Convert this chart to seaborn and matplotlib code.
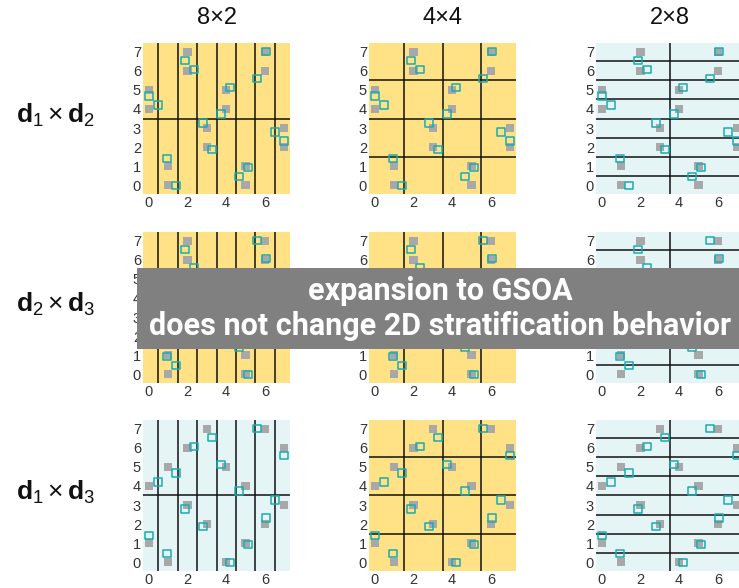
import matplotlib
matplotlib.use("Agg")
import matplotlib.pyplot as plt
from matplotlib.patches import Rectangle
import seaborn as sns
import pandas as pd

# 16-point coarse lattice design (gray) in three dimensions
grid_d1 = [0, 0, 1, 1, 2, 2, 3, 3, 4, 4, 5, 5, 6, 6, 7, 7]
grid_d2 = [5, 4, 1, 0, 6, 7, 2, 3, 5, 4, 1, 0, 6, 7, 2, 3]
grid_d3 = [1, 4, 0, 5, 6, 3, 7, 2, 0, 5, 1, 4, 7, 2, 6, 3]

# 16-point expanded design (open squares) in three dimensions
gsoa_d1 = [0.00, 0.47, 0.93, 1.40, 1.87, 2.33, 2.80, 3.27,
           3.73, 4.20, 4.67, 5.13, 5.60, 6.07, 6.53, 7.00]
gsoa_d2 = [4.67, 4.20, 1.40, 0.00, 6.53, 6.07, 3.27, 1.87,
           3.73, 5.13, 0.47, 0.93, 5.60, 7.00, 2.80, 2.33]
gsoa_d3 = [1.40, 4.20, 0.47, 4.67, 2.80, 6.07, 1.87, 6.53,
           5.13, 0.00, 3.73, 0.93, 7.00, 2.33, 3.27, 5.60]

col_titles = ["8\u00d72", "4\u00d74", "2\u00d78"]
strata = [(8, 2), (4, 4), (2, 8)]
row_labels = [r"$\mathbf{d}_1\times\mathbf{d}_2$",
              r"$\mathbf{d}_2\times\mathbf{d}_3$",
              r"$\mathbf{d}_1\times\mathbf{d}_3$"]
row_pairs = [("d1", "d2"), ("d2", "d3"), ("d1", "d3")]
# panel shading: stratified (yellow) or not (light cyan)
panel_ok = [[True, True, False],
            [True, True, False],
            [False, True, False]]

YELLOW = "#ffe285"
CYAN = "#e5f4f4"
GRAY = "#a8a8a8"
TEAL = "#19abb0"

grid_df = pd.DataFrame({"d1": grid_d1, "d2": grid_d2, "d3": grid_d3})
gsoa_df = pd.DataFrame({"d1": gsoa_d1, "d2": gsoa_d2, "d3": gsoa_d3})

sns.set_theme(style="white")
plt.rcParams["font.family"] = ["Liberation Sans", "DejaVu Sans"]
plt.rcParams["mathtext.fontset"] = "custom"
plt.rcParams["mathtext.rm"] = "Liberation Sans"
plt.rcParams["mathtext.bf"] = "Liberation Sans:bold"
plt.rcParams["mathtext.it"] = "Liberation Sans:italic"

W, H = 739, 588
fig = plt.figure(figsize=(W / 100, H / 100), dpi=100)

col_left = [143, 369, 596]
row_top = [43, 232, 420]
aw, ah = 147, 151

for r in range(3):
    xk, yk = row_pairs[r]
    for c in range(3):
        x0 = col_left[c] / W
        y0 = 1 - (row_top[r] + ah) / H
        ax = fig.add_axes([x0, y0, aw / W, ah / H])
        ax.set_facecolor(YELLOW if panel_ok[r][c] else CYAN)
        nx, ny = strata[c]
        for i in range(1, nx):
            ax.axvline(i * 8 / nx - 0.5, color="#111111", lw=1.1, zorder=1)
        for j in range(1, ny):
            ax.axhline(j * 8 / ny - 0.5, color="#111111", lw=1.1, zorder=1)
        sns.scatterplot(data=grid_df, x=xk, y=yk, ax=ax, marker="s", s=34,
                        color=GRAY, edgecolor="none", linewidth=0, zorder=2,
                        legend=False)
        sns.scatterplot(data=gsoa_df, x=xk, y=yk, ax=ax, marker="s", s=30,
                        facecolor="none", edgecolor=TEAL, linewidth=1.1,
                        zorder=3, legend=False)
        ax.set_xlim(-0.3, 7.3)
        ax.set_ylim(-0.45, 7.45)
        ax.set_xticks([0, 2, 4, 6])
        ax.set_yticks(range(8))
        ax.set_xlabel("")
        ax.set_ylabel("")
        ax.tick_params(length=0, labelsize=10.5, colors="#333333", pad=1.5)
        for s in ax.spines.values():
            s.set_visible(False)
        if r == 0:
            fig.text((col_left[c] + aw / 2) / W, 1 - 18 / H, col_titles[c],
                     ha="center", va="center", fontsize=17, color="#111111")
    fig.text(56 / W, 1 - (row_top[r] + 72) / H, row_labels[r],
             ha="center", va="center", fontsize=19, color="#111111")

# banner across the middle row
fig.patches.append(Rectangle((137 / W, 1 - 349 / H), (W - 137) / W + 0.01,
                             81 / H, transform=fig.transFigure,
                             facecolor="#808080", edgecolor="none", zorder=10))
fig.text(440 / W, 1 - 291 / H, "expansion to GSOA", ha="center", va="center",
         fontsize=22, fontweight="bold", color="white", zorder=11,
         family=["Roboto", "DejaVu Sans"])
fig.text(440 / W, 1 - 326 / H, "does not change 2D stratification behavior",
         ha="center", va="center", fontsize=22, fontweight="bold",
         color="white", zorder=11, family=["Roboto", "DejaVu Sans"])

fig.savefig("out.png", dpi=100)
